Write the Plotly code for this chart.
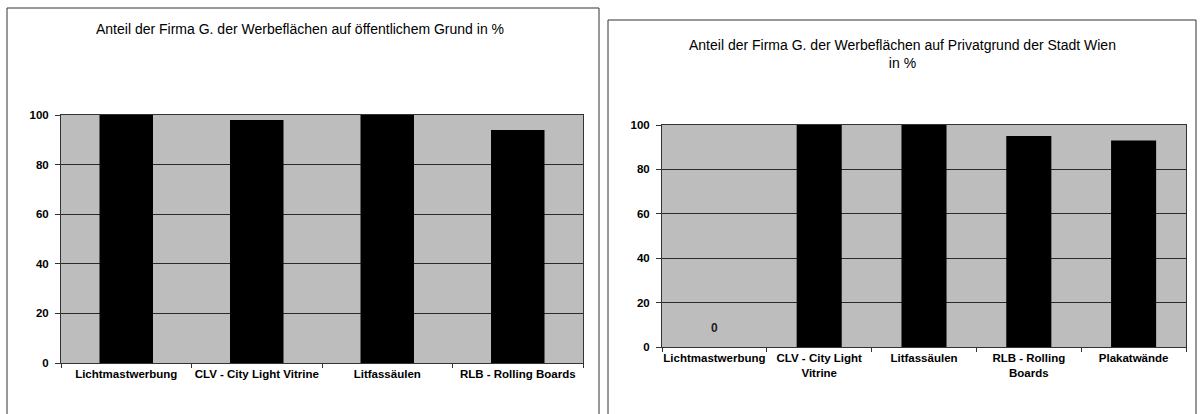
import plotly.graph_objects as go

# Left chart data
left_title = "Anteil der Firma G. der Werbeflächen auf öffentlichem Grund in %"
left_categories = ["Lichtmastwerbung", "CLV - City Light Vitrine", "Litfassäulen", "RLB - Rolling Boards"]
left_values = [100, 98, 100, 94]

# Right chart data
right_title = "Anteil der Firma G. der Werbeflächen auf Privatgrund der Stadt Wien<br>in %"
right_categories = ["Lichtmastwerbung", "CLV - City Light<br>Vitrine", "Litfassäulen", "RLB - Rolling<br>Boards", "Plakatwände"]
right_values = [0, 100, 100, 95, 93]

y_ticks = [0, 20, 40, 60, 80, 100]

W, H = 1200, 414
FONT = "Liberation Sans, Arial, sans-serif"
BG = "#bdbdbd"
GRID = "#2a2a2a"
AX = "#333333"
TXT = "#000000"

def px_x(p):
    return p / W

def px_y(p):
    return 1 - p / H

fig = go.Figure()
fig.add_trace(go.Bar(x=left_categories, y=left_values, width=0.41,
                     marker=dict(color="black", line=dict(width=0)),
                     xaxis="x", yaxis="y", showlegend=False, hoverinfo="x+y"))
fig.add_trace(go.Bar(x=right_categories, y=right_values, width=0.43,
                     marker=dict(color="black", line=dict(width=0)),
                     xaxis="x2", yaxis="y2", showlegend=False, hoverinfo="x+y"))

common_y = dict(range=[0, 100], tickvals=y_ticks, ticktext=[str(v) for v in y_ticks],
                showgrid=True, gridcolor=GRID, gridwidth=1, zeroline=False,
                showline=True, linecolor=AX, linewidth=1, mirror=True,
                ticks="outside", ticklen=5, tickcolor=AX, tickwidth=1, ticklabelstandoff=4,
                tickfont=dict(family=FONT, size=11.5, color=TXT, weight="bold"),
                fixedrange=True, automargin=False)
common_x = dict(showgrid=False, zeroline=False, showline=True, linecolor=AX, linewidth=1, mirror=True,
                ticks="outside", ticklen=4, tickcolor=AX, tickson="boundaries", tickangle=0,
                tickfont=dict(family=FONT, size=11.5, color=TXT, weight="bold"),
                fixedrange=True, type="category", automargin=False)

fig.update_layout(
    width=W, height=H, margin=dict(l=0, r=0, t=0, b=0, autoexpand=False),
    paper_bgcolor="white", plot_bgcolor=BG,
    xaxis=dict(domain=[px_x(61), px_x(583)], anchor="y", **common_x),
    yaxis=dict(domain=[px_y(363), px_y(115)], anchor="x", **common_y),
    xaxis2=dict(domain=[px_x(662), px_x(1186)], anchor="y2", **common_x),
    yaxis2=dict(domain=[px_y(347), px_y(125)], anchor="x2", **common_y),
    font=dict(family=FONT, color=TXT),
)

# Titles
fig.add_annotation(text=left_title, xref="paper", yref="paper", x=px_x(300), y=px_y(29),
                   showarrow=False, font=dict(family=FONT, size=14, color=TXT), xanchor="center", yanchor="middle")
fig.add_annotation(text=right_title, xref="paper", yref="paper", x=px_x(903), y=px_y(54),
                   showarrow=False, font=dict(family=FONT, size=14, color=TXT), xanchor="center", yanchor="middle")

# Data label for zero value
fig.add_annotation(text=str(right_values[0]), x=right_categories[0], y=right_values[0], xref="x2", yref="y2",
                   yshift=19, showarrow=False, font=dict(family=FONT, size=12, color="#222", weight="bold"))

# Panel borders
fig.add_shape(type="rect", xref="paper", yref="paper", x0=px_x(7), x1=px_x(599), y0=-0.1, y1=px_y(8),
              line=dict(color="#333", width=1), fillcolor="rgba(0,0,0,0)", layer="below")
fig.add_shape(type="rect", xref="paper", yref="paper", x0=px_x(608), x1=px_x(1196), y0=-0.1, y1=px_y(20),
              line=dict(color="#333", width=1), fillcolor="rgba(0,0,0,0)", layer="below")

fig.write_html("out.html", config=dict(displayModeBar=False),
               post_script="document.body.style.margin='0';document.body.style.overflow='hidden';")
